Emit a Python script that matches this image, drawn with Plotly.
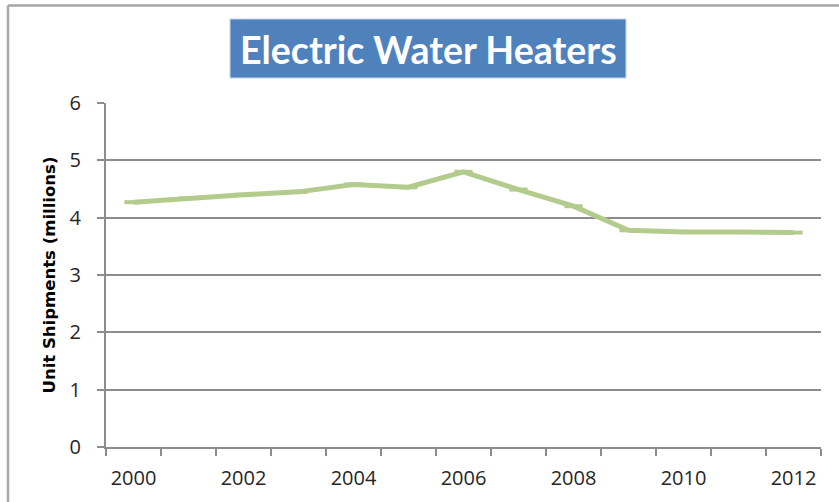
import plotly.graph_objects as go

years = [2000, 2001, 2002, 2003, 2004, 2005, 2006, 2007, 2008, 2009, 2010, 2011, 2012]
shipments = [4.27, 4.34, 4.40, 4.45, 4.58, 4.53, 4.80, 4.49, 4.20, 3.78, 3.75, 3.75, 3.74]
label_years = years[::2]
y_ticks = [0, 1, 2, 3, 4, 5, 6]
title_text = "Electric Water Heaters"
y_title = "Unit Shipments (millions)"

W, H = 839, 502
L, R, T, B = 106, 18, 103, 55
pw, ph = W - L - R, H - T - B

def px_x(x):
    return (x - L) / pw

def px_y(y):
    return (H - B - y) / ph

boundaries = [y - 0.5 for y in years] + [years[-1] + 0.5]

fig = go.Figure()
fig.add_trace(go.Scatter(
    x=years, y=shipments, mode="lines+markers",
    line=dict(color="#b3cc8d", width=5),
    marker=dict(symbol="line-ew", size=13, line=dict(color="#b3cc8d", width=4)),
    showlegend=False, hoverinfo="x+y",
))

grid = "#8c8c8c"
fig.update_layout(
    width=W, height=H,
    margin=dict(l=L, r=R, t=T, b=B, autoexpand=False),
    paper_bgcolor="white", plot_bgcolor="white",
    font=dict(family="Open Sans, DejaVu Sans, sans-serif", color="#262626"),
    xaxis=dict(
        range=[years[0] - 0.5, years[-1] + 0.5],
        tickvals=label_years, ticktext=[str(v) for v in label_years],
        ticks="", showgrid=False, zeroline=False,
        showline=True, linecolor=grid, linewidth=2,
        tickfont=dict(size=20, color="#262626"),
        ticklabelstandoff=12,
        minor=dict(tickvals=boundaries, ticks="outside", ticklen=7, tickwidth=2,
                   tickcolor=grid, showgrid=False),
        fixedrange=True,
    ),
    yaxis=dict(
        range=[0, 6], tickvals=y_ticks,
        ticks="outside", ticklen=7, tickwidth=2, tickcolor=grid,
        showgrid=True, gridcolor=grid, gridwidth=1.5,
        zeroline=False, showline=True, linecolor=grid, linewidth=2,
        tickfont=dict(size=20, color="#262626"),
        ticklabelstandoff=12,
        title=dict(text=y_title, font=dict(size=16.5, color="#000000", family="DejaVu Sans, sans-serif", weight="bold"),
                   standoff=10),
        fixedrange=True,
    ),
)

# Outer chart border (left and top visible)
fig.add_shape(type="line", xref="paper", yref="paper",
              x0=px_x(8), x1=px_x(W + 5), y0=px_y(5.5), y1=px_y(5.5),
              line=dict(color="#a6a6a6", width=2.5))
fig.add_shape(type="line", xref="paper", yref="paper",
              x0=px_x(8), x1=px_x(8), y0=px_y(5.5), y1=px_y(H + 5),
              line=dict(color="#a6a6a6", width=2.5))

# Title box
fig.add_shape(type="rect", xref="paper", yref="paper",
              x0=px_x(230), x1=px_x(626), y0=px_y(78), y1=px_y(19),
              fillcolor="#4f81bd", line=dict(color="#c6d5ea", width=1), layer="above")
fig.add_annotation(xref="paper", yref="paper", x=px_x(428), y=px_y(49.5),
                   text="<b>" + title_text + "</b>", showarrow=False,
                   xanchor="center", yanchor="middle",
                   font=dict(size=37.5, color="white",
                             family="Lato, Open Sans, sans-serif"))

fig.write_html("out.html", config={"displayModeBar": False},
               post_script="document.body.style.margin='0';document.body.style.padding='0';")
